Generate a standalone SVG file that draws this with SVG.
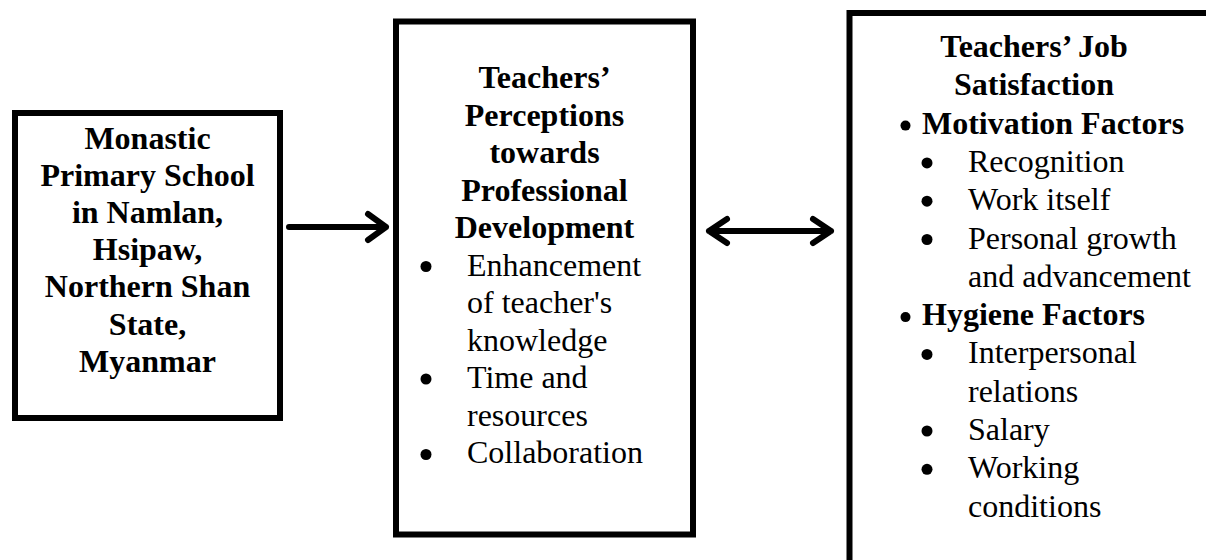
<svg xmlns="http://www.w3.org/2000/svg" width="1206" height="560" viewBox="0 0 1206 560">
  <style>
    .box { fill: #ffffff; stroke: #000000; stroke-width: 6; }
    .h { font-family: "Liberation Serif", "Times New Roman", serif; font-weight: bold; font-size: 32px; fill: #000000; }
    .t { font-family: "Liberation Serif", "Times New Roman", serif; font-size: 32px; fill: #000000; }
    .c { text-anchor: middle; }
    .arrow { fill: none; stroke: #000000; stroke-width: 6; stroke-linecap: round; stroke-linejoin: round; }
    .dot { fill: #000000; }
  </style>
  <rect x="0" y="0" width="1206" height="560" fill="#ffffff"/>

  <g id="node-school">
    <rect class="box" x="15" y="113" width="265" height="305"/>
    <text class="h c" x="147.5" y="149">Monastic</text>
    <text class="h c" x="147.5" y="186">Primary School</text>
    <text class="h c" x="147.5" y="223">in Namlan,</text>
    <text class="h c" x="147.5" y="260">Hsipaw,</text>
    <text class="h c" x="147.5" y="297">Northern Shan</text>
    <text class="h c" x="147.5" y="335">State,</text>
    <text class="h c" x="147.5" y="372">Myanmar</text>
  </g>

  <g id="node-perceptions">
    <rect class="box" x="396" y="21.5" width="297" height="513"/>
    <text class="h c" x="544.5" y="88">Teachers’</text>
    <text class="h c" x="544.5" y="125.5">Perceptions</text>
    <text class="h c" x="544.5" y="163">towards</text>
    <text class="h c" x="544.5" y="200.5">Professional</text>
    <text class="h c" x="544.5" y="238">Development</text>
    <circle class="dot" cx="426" cy="266.5" r="5.5"/>
    <text class="t" x="467" y="275.5">Enhancement</text>
    <text class="t" x="467" y="313">of teacher's</text>
    <text class="t" x="467" y="350.5">knowledge</text>
    <circle class="dot" cx="426" cy="379" r="5.5"/>
    <text class="t" x="467" y="388">Time and</text>
    <text class="t" x="467" y="425.5">resources</text>
    <circle class="dot" cx="426" cy="454.5" r="5.5"/>
    <text class="t" x="467" y="463">Collaboration</text>
  </g>

  <g id="node-satisfaction">
    <rect class="box" x="849.5" y="13" width="420" height="620"/>
    <text class="h c" x="1034" y="57">Teachers’ Job</text>
    <text class="h c" x="1034" y="95.3">Satisfaction</text>
    <circle class="dot" cx="905.5" cy="125.6" r="5"/>
    <text class="h" x="922" y="133.6">Motivation Factors</text>
    <circle class="dot" cx="927" cy="162.9" r="5.5"/>
    <text class="t" x="968" y="171.9">Recognition</text>
    <circle class="dot" cx="927" cy="201.2" r="5.5"/>
    <text class="t" x="968" y="210.2">Work itself</text>
    <circle class="dot" cx="927" cy="239.5" r="5.5"/>
    <text class="t" x="968" y="248.5">Personal growth</text>
    <text class="t" x="968" y="286.8">and advancement</text>
    <circle class="dot" cx="905.5" cy="317.1" r="5"/>
    <text class="h" x="922" y="325.1">Hygiene Factors</text>
    <circle class="dot" cx="927" cy="354.4" r="5.5"/>
    <text class="t" x="968" y="363.4">Interpersonal</text>
    <text class="t" x="968" y="401.7">relations</text>
    <circle class="dot" cx="927" cy="431" r="5.5"/>
    <text class="t" x="968" y="440">Salary</text>
    <circle class="dot" cx="927" cy="469.3" r="5.5"/>
    <text class="t" x="968" y="478.3">Working</text>
    <text class="t" x="968" y="516.6">conditions</text>
  </g>

  <g id="connectors">
    <path class="arrow" d="M289 227 L386 227 M368 214 L386 227 L368 240"/>
    <path class="arrow" d="M709 231 L831 231 M727 219 L709 231 L727 243 M813 219 L831 231 L813 243"/>
  </g>
</svg>
